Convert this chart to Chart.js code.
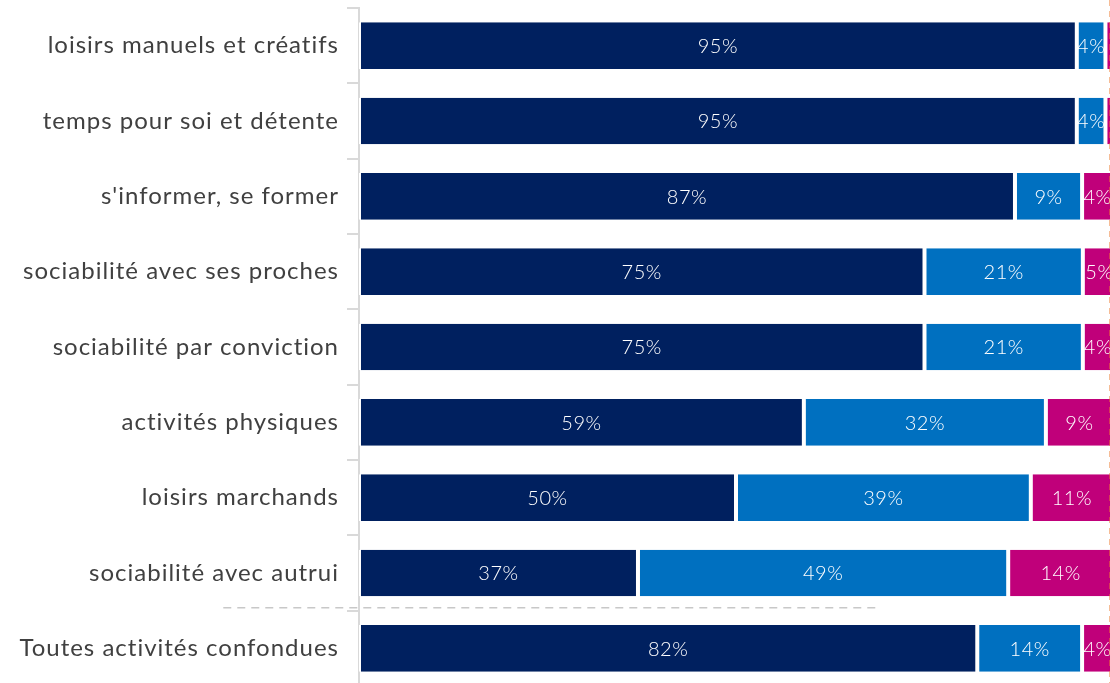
<!DOCTYPE html>
<html>
<head>
<meta charset="utf-8">
<script src="https://cdn.jsdelivr.net/npm/chart.js@4"></script>
<style>
  html, body { margin: 0; padding: 0; background: #fff; overflow: hidden; }
  #wrap { position: relative; width: 1114px; height: 686px; }
</style>
</head>
<body>
<div id="wrap"><canvas id="grafico"></canvas></div>
<script>
const categories = [
  "loisirs manuels et créatifs",
  "temps pour soi et détente",
  "s'informer, se former",
  "sociabilité avec ses proches",
  "sociabilité par conviction",
  "activités physiques",
  "loisirs marchands",
  "sociabilité avec autrui",
  "Toutes activités confondues",
];
const serie1 = [95.2, 95.2, 87.0, 75.0, 75.0, 59.0, 50.0, 37.0, 82.0];
const serie2 = [3.8, 3.8, 8.9, 21.0, 21.0, 32.1, 39.1, 49.1, 13.9];
const serie3 = [1.0, 1.0, 4.1, 4.4, 4.0, 8.9, 10.9, 13.9, 4.1];
const etiquettes1 = ["95%", "95%", "87%", "75%", "75%", "59%", "50%", "37%", "82%"];
const etiquettes2 = ["4%", "4%", "9%", "21%", "21%", "32%", "39%", "49%", "14%"];
const etiquettes3 = ["", "", "4%", "5%", "4%", "9%", "11%", "14%", "4%"];
const colores = ["#00205F", "#0070C0", "#C0007A"];
const LIGNE_REF = 99.6; // ligne orange verticale
const SEPARATEUR = 7.5; // entre "autrui" et "toutes activités"

const etiquettes = [etiquettes1, etiquettes2, etiquettes3];

// espacement des lettres, comme la police d'origine
const espacePlugin = {
  id: "espace",
  beforeLayout(chart) { chart.ctx.letterSpacing = "1px"; },
  beforeDraw(chart) { chart.ctx.letterSpacing = "1px"; },
};

const labelsPlugin = {
  id: "labels",
  afterDatasetsDraw(chart) {
    const ctx = chart.ctx;
    ctx.save();
    ctx.letterSpacing = "0.5px";
    ctx.font = "300 20px Lato";
    ctx.fillStyle = "#ffffff";
    ctx.textAlign = "center";
    ctx.textBaseline = "middle";
    chart.data.datasets.forEach((ds, i) => {
      const meta = chart.getDatasetMeta(i);
      meta.data.forEach((bar, j) => {
        const txt = etiquettes[i][j];
        if (!txt) return;
        const cx = (bar.x + bar.base) / 2;
        ctx.fillText(txt, cx, bar.y + 1);
      });
    });
    ctx.restore();
  },
};

const lignesPlugin = {
  id: "lignes",
  afterDraw(chart) {
    const ctx = chart.ctx;
    const x = chart.scales.x;
    const y = chart.scales.y;
    ctx.save();
    // separateur horizontal
    const ys = (y.getPixelForValue(Math.floor(SEPARATEUR)) + y.getPixelForValue(Math.ceil(SEPARATEUR))) / 2 - 3;
    ctx.strokeStyle = "#c8c8c8";
    ctx.lineWidth = 1.5;
    ctx.setLineDash([8, 6]);
    ctx.beginPath();
    ctx.moveTo(x.getPixelForValue(-18), ys);
    ctx.lineTo(x.getPixelForValue(68.5), ys);
    ctx.stroke();
    // ligne orange
    const xr = Math.round(x.getPixelForValue(LIGNE_REF)) + 0.5;
    ctx.strokeStyle = "#ED7D31";
    ctx.lineWidth = 2;
    ctx.setLineDash([6, 5]);
    ctx.beginPath();
    ctx.moveTo(xr, 0);
    ctx.lineTo(xr, chart.height);
    ctx.stroke();
    ctx.restore();
  },
};

const datasets = [serie1, serie2, serie3].map((data, i) => ({
  data: data,
  backgroundColor: colores[i],
  borderColor: "#ffffff",
  borderWidth: { left: 2, right: 2, top: 0, bottom: 0 },
  borderSkipped: false,
  barPercentage: 0.62,
  categoryPercentage: 1,
}));

new Chart(document.getElementById("grafico"), {
  type: "bar",
  data: { labels: categories, datasets: datasets },
  options: {
    indexAxis: "y",
    responsive: true,
    maintainAspectRatio: false,
    animation: false,
    layout: { padding: { top: 8, bottom: 0, left: 0, right: 1 } },
    plugins: { legend: { display: false }, tooltip: { enabled: false } },
    scales: {
      x: {
        stacked: true,
        min: 0,
        max: 100,
        display: false,
      },
      y: {
        stacked: true,
        afterFit: (s) => { s.width = 359; s.paddingTop = 0; s.paddingBottom = 0; },
        border: { color: "#d9d9d9", width: 2 },
        grid: {
          offset: true,
          drawOnChartArea: false,
          tickLength: 12,
          color: "#d9d9d9",
          lineWidth: 2,
        },
        ticks: {
          color: "#404040",
          font: { family: "Lato", size: 24 },
          padding: 8,
        },
      },
    },
  },
  plugins: [espacePlugin, labelsPlugin, lignesPlugin],
});
</script>
</body>
</html>
